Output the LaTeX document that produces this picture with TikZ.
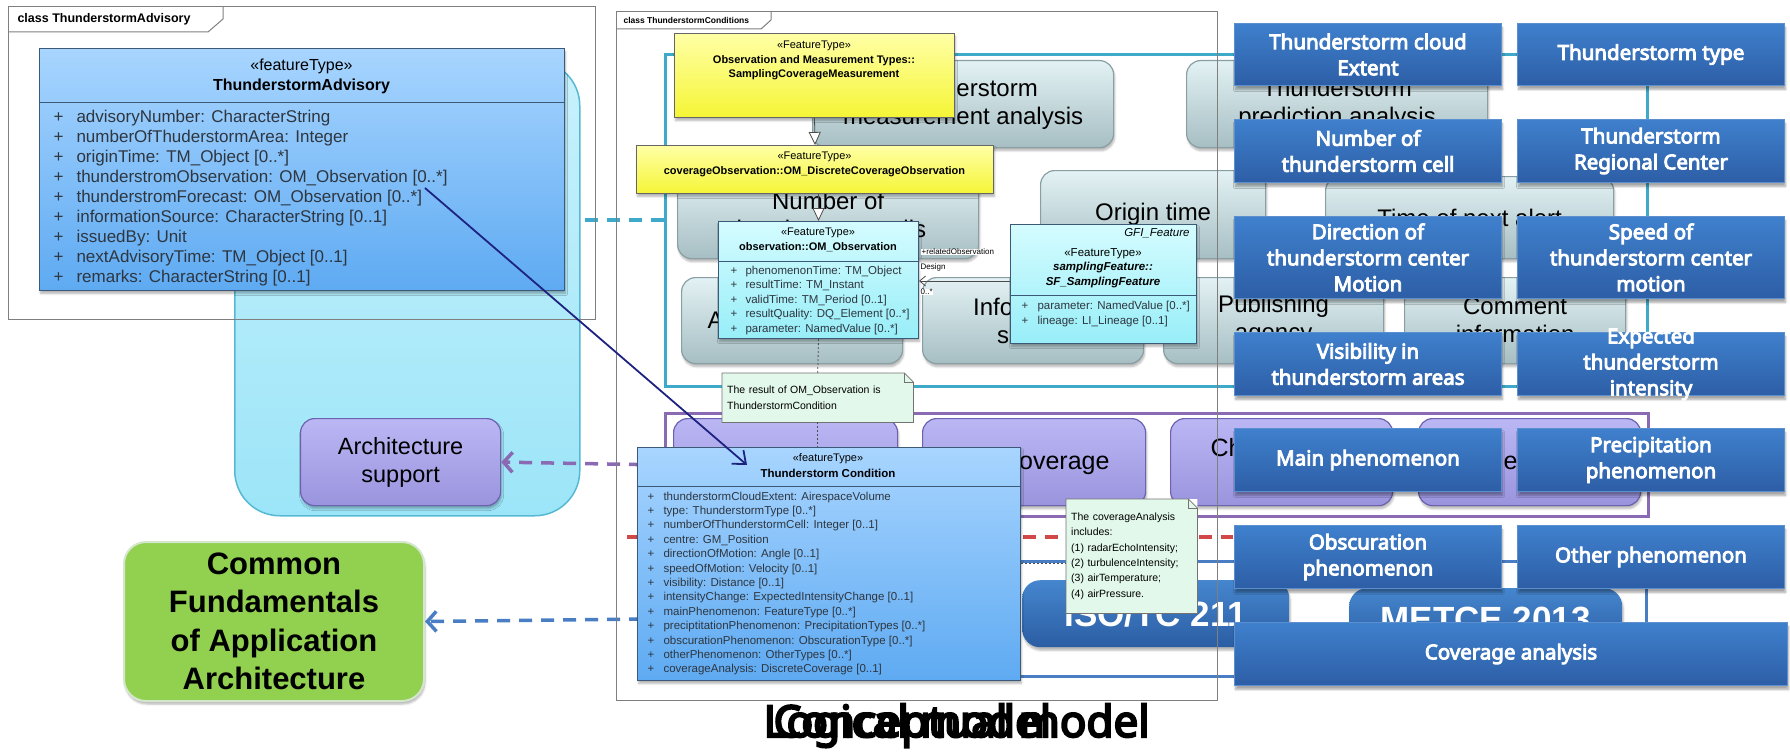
\documentclass[tikz,border=0pt]{standalone}
\usepackage{fontspec}
\setmainfont{Liberation Sans}
\newfontfamily\lblfont[AutoFakeBold=4.5]{Noto Sans}
\usetikzlibrary{arrows.meta,shadows.blur}

\definecolor{advtop}{HTML}{A8D5FF}
\definecolor{advbot}{HTML}{5EAAF2}
\definecolor{umlline}{HTML}{3C5A78}
\definecolor{umltxt}{HTML}{2E3640}
\definecolor{cytop}{HTML}{D4FCFF}
\definecolor{cybot}{HTML}{98EEF8}
\definecolor{yltop}{HTML}{FFFFA6}
\definecolor{ylbot}{HTML}{F5F536}
\definecolor{notefill}{HTML}{E2F8EA}
\definecolor{apptop}{HTML}{C8F1FC}
\definecolor{appbot}{HTML}{9CE5F8}
\definecolor{appline}{HTML}{56B9D2}
\definecolor{tealc}{HTML}{3FA9C9}
\definecolor{purc}{HTML}{8A6AB2}
\definecolor{bluc}{HTML}{4A7EC4}
\definecolor{redc}{HTML}{D04848}
\definecolor{gtop}{HTML}{E3F2F4}
\definecolor{gbot}{HTML}{A6BEC3}
\definecolor{gline}{HTML}{8A9FA4}
\definecolor{ptop}{HTML}{BBB7F4}
\definecolor{pbot}{HTML}{9A94DE}
\definecolor{pline}{HTML}{6C62B0}
\definecolor{isotop}{HTML}{4586CE}
\definecolor{isobot}{HTML}{2B5DA3}
\definecolor{lbtop}{HTML}{3F80CD}
\definecolor{lbbot}{HTML}{2D5EA6}
\definecolor{lbline}{HTML}{5C8FD0}
\definecolor{grnfill}{HTML}{92D050}
\definecolor{grnline}{HTML}{D4E6CC}
\definecolor{navyc}{HTML}{1E2280}
\definecolor{frmc}{HTML}{7F7F7F}

\newcommand{\fsz}[2]{\fontsize{#1}{#2}\selectfont}

\tikzset{
  box/.style 2 args={minimum width=#1, minimum height=#2, anchor=north west, inner sep=0pt},
  soft/.style={blur shadow={shadow blur steps=5, shadow xshift=1pt, shadow yshift=-3pt, shadow opacity=30}},
  frm/.style={draw=frmc, line width=1pt},
  grp/.style={draw=#1, line width=3pt},
  appbx/.style={rounded corners=45pt, top color=apptop, bottom color=appbot, draw=appline, line width=1.5pt},
  gbox/.style={soft, rounded corners=14pt, top color=gtop, bottom color=gbot, draw=gline, line width=1.2pt, align=center, font={\fsz{24}{28}}},
  pbox/.style={soft, rounded corners=14pt, top color=ptop, bottom color=pbot, draw=pline, line width=1.2pt, align=center, font={\fsz{24}{28}}},
  isobox/.style={soft, rounded corners=18pt, top color=isotop, bottom color=isobot, text=white, font={\bfseries\fsz{35}{38}}},
  gnbox/.style={soft, rounded corners=22pt, fill=grnfill, draw=grnline, line width=2pt, align=center, font={\bfseries\fsz{31}{38.5}}},
  dashln/.style={line width=3.5pt, dash pattern=on 13pt off 9pt},
  umlln/.style={draw=black!70, line width=0.8pt},
  clsbl/.style={soft, top color=advtop, bottom color=advbot, draw=umlline, line width=1pt},
  clscy/.style={soft, top color=cytop, bottom color=cybot, draw=umlline, line width=1pt},
  clsyl/.style={soft, top color=yltop, bottom color=ylbot, draw=black!60, line width=1pt},
  attr/.style={anchor=base west, text=umltxt},
  notebx/.style={fill=notefill, align=left, font={\fsz{10.5}{15.3}}},
  notel/.style={draw=black!55, line width=0.8pt},
  asclbl/.style={anchor=west, fill=white, inner sep=0.5pt, font={\fsz{8}{9}}},
  lblbox/.style={top color=lbtop, bottom color=lbbot, draw=lbline, line width=1pt,
    blur shadow={shadow blur steps=6, shadow xshift=1pt, shadow yshift=-4pt, shadow opacity=35}},
  lbltxt/.style={text=white, align=center, font={\lblfont\bfseries\fsz{20.5}{26}}}
}

\begin{document}
\begin{tikzpicture}[x=1pt,y=-1pt]
\useasboundingbox (0,0) rectangle (1790,752);

\node[appbx, box={345}{455}] (appbox) at (234,60) {};
\node[grp=tealc, box={982}{332}] (tealgrp) at (664,53) {};
\node[grp=purc, box={983}{103}] (purgrp) at (664,412) {};
\node[grp=bluc, box={981}{115}, line width=2.5pt] (blugrp) at (664,560) {};

\node[gbox, box={301}{87}] (gmeas) at (812,60) {Thunderstorm\\measurement analysis};
\node[gbox, box={301}{87}] (gpred) at (1186,60) {Thunderstorm\\prediction analysis};
\node[gbox, box={301}{88}] (gcell) at (677,170) {Number of\\thunderstorm cells};
\node[gbox, box={225}{88}] (gorig) at (1040,170) {Origin time};
\node[gbox, box={288}{82}] (gnext) at (1325,176) {Time of next alert};
\node[gbox, box={221}{86}] (gadv) at (681,277) {};
\node[anchor=west, font={\fsz{24}{28}}] (gadvt) at (704,320) {A};
\node[gbox, box={221}{86}] (ginfo) at (922,277) {Information\\source};
\node[gbox, box={220}{86}] (gpub) at (1163,277) {Publishing\\agency};
\node[gbox, box={221}{86}] (gcom) at (1404,277) {Comment\\information};

\node[pbox, box={224}{87}] (pa) at (673,418) {};
\node[pbox, box={223}{87}] (pcov) at (922,418) {};
\node[anchor=east, font={\fsz{25}{28}}] (pcovt) at (1113,463) {Coverage};
\node[pbox, box={222}{87}] (pch) at (1170,418) {};
\node[anchor=west, font={\fsz{25}{28}}] (pcht) at (1207,448) {Ch};
\node[pbox, box={222}{87}] (pe) at (1418,418) {};
\node[anchor=west, font={\fsz{25}{28}}] (pet) at (1500,463) {e};

\node[isobox, box={267}{67}] (iso) at (1022,580) {ISO/TC 211};
\node[isobox, box={273}{62}] (metce) at (1349,588) {METCE 2013};

\node[pbox, box={200}{87}, font={\fsz{23.5}{28}}] (arch) at (300,418) {Architecture\\support};
\node[gnbox, box={300}{159}] (cfa) at (123,541) {Common\\Fundamentals\\of Application\\Architecture};

\draw[dashln, tealc] (tealgrp.west |- 0,220) -- (appbox.east |- 0,220);
\draw[dashln, purc, -{Straight Barb[length=9pt,width=20pt]}] (purgrp.west) -- (arch.east);
\draw[dashln, bluc, -{Straight Barb[length=9pt,width=20pt]}] (blugrp.west) -- (cfa.east);
\coordinate (redL) at (627,537);
\coordinate (redR) at (1233,537);
\draw[dashln, redc] (redL) -- (redR);

\draw[frm] (8,7) rectangle (595,319);
\draw[frm] (8,32) -- (208,32) -- (223,19) -- (223,7);
\node[anchor=west, font={\bfseries\fsz{12.5}{14}}] (advfrm) at (14,19.5) {class ThunderstormAdvisory};
\draw[frm] (616,12) rectangle (1217,700);
\draw[frm] (616,29) -- (761,29) -- (771,20) -- (771,12);
\node[anchor=west, font={\bfseries\fsz{8.5}{10}}] (cndfrm) at (620,20.5) {class ThunderstormConditions};

\node[clsbl, box={525}{242}] (adv) at (39,48) {};
\draw[umlln, draw=umlline] (adv.west |- 0,102) -- (adv.east |- 0,102);
\node[font={\fsz{16}{18}}] (advst) at (301.5,66) {«featureType»};
\node[font={\bfseries\fsz{16}{18}}] (advnm) at (301.5,86) {ThunderstormAdvisory};
\foreach \a [count=\i from 0] in {advisoryNumber: CharacterString, numberOfThuderstormArea: Integer,
    originTime: TM\_Object [0..*], thunderstromObservation: OM\_Observation [0..*],
    thunderstromForecast: OM\_Observation [0..*], informationSource: CharacterString [0..1],
    issuedBy: Unit, nextAdvisoryTime: TM\_Object [0..1], remarks: CharacterString [0..1]}
  {\node[attr, font={\fsz{17}{20}}] (advp\i) at (50,{122+20*\i}) {+};
   \node[attr, font={\fsz{17}{20}}] (adva\i) at (73,{122+20*\i}) {\a};}

\node[clsyl, box={280}{84}] (yel1) at (674,33) {};
\node[font={\fsz{11}{13}}] (yel1st) at (814,46) {«FeatureType»};
\node[font={\bfseries\fsz{11}{14}}, align=center] (yel1nm) at (814,68) {Observation and Measurement Types::\\SamplingCoverageMeasurement};
\node[clsyl, box={357}{48}] (yel2) at (636,145) {};
\node[font={\fsz{11}{13}}] (yel2st) at (814.5,157) {«FeatureType»};
\node[font={\bfseries\fsz{11}{13}}] (yel2nm) at (814.5,172) {coverageObservation::OM\_DiscreteCoverageObservation};

\node[clscy, box={200}{117}] (omobs) at (718,221) {};
\draw[umlln, draw=umlline] (omobs.west |- 0,261) -- (omobs.east |- 0,261);
\node[font={\fsz{11}{13}}] (omst) at (818,233) {«FeatureType»};
\node[font={\bfseries\fsz{11}{13}}] (omnm) at (818,247) {observation::OM\_Observation};
\foreach \a [count=\i from 0] in {phenomenonTime: TM\_Object, resultTime: TM\_Instant,
    validTime: TM\_Period [0..1], resultQuality: DQ\_Element [0..*], parameter: NamedValue [0..*]}
  {\node[attr, font={\fsz{11.5}{14}}] (omp\i) at (727,{274+14.6*\i}) {+};
   \node[attr, font={\fsz{11.5}{14}}] (oma\i) at (742,{274+14.6*\i}) {\a};}

\node[clscy, box={186}{119}] (sfsf) at (1010,224) {};
\draw[umlln, draw=umlline] (sfsf.west |- 0,295) -- (sfsf.east |- 0,295);
\node[anchor=east, font={\itshape\fsz{11.5}{13}}] (sfgfi) at (1193,233) {GFI\_Feature};
\node[font={\fsz{11.5}{13}}] (sfst) at (1103,254) {«FeatureType»};
\node[font={\bfseries\itshape\fsz{11.5}{15}}, align=center] (sfnm) at (1103,275.5) {samplingFeature::\\SF\_SamplingFeature};
\foreach \a [count=\i from 0] in {parameter: NamedValue [0..*], lineage: LI\_Lineage [0..1]}
  {\node[attr, font={\fsz{11.5}{14}}] (sfp\i) at (1018,{309+15*\i}) {+};
   \node[attr, font={\fsz{11.5}{14}}] (sfa\i) at (1034,{309+15*\i}) {\a};}

\draw[umlln, -{Triangle[fill=white,length=13pt,width=12pt]}] (yel1.south) -- (yel2.north);
\draw[umlln, -{Triangle[fill=white,length=13pt,width=12pt]}] (yel2.south -| omobs.north) -- (omobs.north);
\draw[umlln, -{Straight Barb[length=6pt,width=10pt]}] (sfsf.west |- 0,281) -- (omobs.east |- 0,281);
\node[asclbl] (relobs) at (921,252) {+relatedObservation};
\node[asclbl] (dsgn) at (920,267) {Design};
\node[asclbl] (mult) at (920,292) {0..*};

\node[notebx, box={191}{49}, inner xsep=5pt, text width=181pt] (nt1) at (722,373) {The result of OM\_Observation is\\ThunderstormCondition};
\fill[white] ([xshift=-9pt]nt1.north east) -- (nt1.north east) -- ([yshift=-9pt]nt1.north east) -- cycle;
\draw[notel] (nt1.north west) -- ([xshift=-9pt]nt1.north east) -- ([yshift=-9pt]nt1.north east) -- (nt1.south east) -- (nt1.south west) -- cycle;
\draw[notel] ([xshift=-9pt]nt1.north east) |- ([yshift=-9pt]nt1.north east);

\node[clsbl, box={383}{233}] (cond) at (637,447) {};
\draw[umlln, draw=umlline] (cond.west |- 0,486) -- (cond.east |- 0,486);
\node[font={\fsz{11}{13}}] (condst) at (828,459) {«featureType»};
\node[font={\bfseries\fsz{11.5}{13}}] (condnm) at (828,473) {Thunderstorm Condition};
\foreach \a [count=\i from 0] in {thunderstormCloudExtent: AirespaceVolume, type: ThunderstormType [0..*],
    numberOfThunderstormCell: Integer [0..1], centre: GM\_Position, directionOfMotion: Angle [0..1],
    speedOfMotion: Velocity [0..1], visibility: Distance [0..1],
    intensityChange: ExpectedIntensityChange [0..1], mainPhenomenon: FeatureType [0..*],
    preciptitationPhenomenon: PrecipitationTypes [0..*], obscurationPhenomenon: ObscurationType [0..*],
    otherPhenomenon: OtherTypes [0..*], coverageAnalysis: DiscreteCoverage [0..1]}
  {\node[attr, font={\fsz{11.5}{14}}] (condp\i) at (644,{500+14.4*\i}) {+};
   \node[attr, font={\fsz{11.5}{14}}] (conda\i) at (660,{500+14.4*\i}) {\a};}

\draw[umlln, dash pattern=on 2pt off 2pt] (omobs.south) -- (nt1.north);
\draw[umlln, dash pattern=on 2pt off 2pt] (nt1.south) -- (nt1.south |- cond.north);

\node[notebx, box={131}{114}, inner xsep=5pt, text width=121pt] (nt2) at (1066,499) {The coverageAnalysis\\includes:\\(1) radarEchoIntensity;\\(2) turbulenceIntensity;\\(3) airTemperature;\\(4) airPressure.};
\fill[white] ([xshift=-9pt]nt2.north east) -- (nt2.north east) -- ([yshift=-9pt]nt2.north east) -- cycle;
\draw[notel] (nt2.north west) -- ([xshift=-9pt]nt2.north east) -- ([yshift=-9pt]nt2.north east) -- (nt2.south east) -- (nt2.south west) -- cycle;
\draw[notel] ([xshift=-9pt]nt2.north east) |- ([yshift=-9pt]nt2.north east);
\draw[umlln, dash pattern=on 2pt off 2pt] (cond.east |- 0,563) -- (nt2.west |- 0,563);

\coordinate (advobs) at (425,188);
\coordinate (condhd) at (747,465);
\draw[navyc, line width=1.8pt, -{Straight Barb[length=11pt,width=18pt]}] (advobs) -- (condhd);

\foreach \nm/\x/\y/\w/\h/\txt in {
    lbA/1234/23/267/62/Thunderstorm cloud\\Extent,
    lbB/1517/23/267/62/Thunderstorm type,
    lbC/1234/119/267/63/Number of\\thunderstorm cell,
    lbD/1517/119/267/63/Thunderstorm\\Regional Center,
    lbE/1234/216/267/82/Direction of\\thunderstorm center\\Motion,
    lbF/1517/216/267/82/Speed of\\thunderstorm center\\motion,
    lbG/1234/332/267/63/Visibility in\\thunderstorm areas,
    lbH/1517/332/267/63/Expected\\thunderstorm\\intensity,
    lbI/1234/428/267/63/Main phenomenon,
    lbJ/1517/428/267/63/Precipitation\\phenomenon,
    lbK/1234/525/267/63/Obscuration\\phenomenon,
    lbL/1517/525/267/63/Other phenomenon,
    lbM/1234/622/553/63/Coverage analysis}
  {\node[lblbox, box={\w}{\h}] (\nm) at (\x,\y) {};
   \node[lbltxt] (\nm-t) at (\nm.center) {\txt};}

\node[anchor=base west, font={\lblfont\bfseries\fsz{44}{48}}] (ttllog) at (760,737) {Logical model};
\node[anchor=base west, font={\lblfont\bfseries\fsz{44}{48}}] (ttlcon) at (770,737) {Conceptual model};
\end{tikzpicture}
\end{document}
